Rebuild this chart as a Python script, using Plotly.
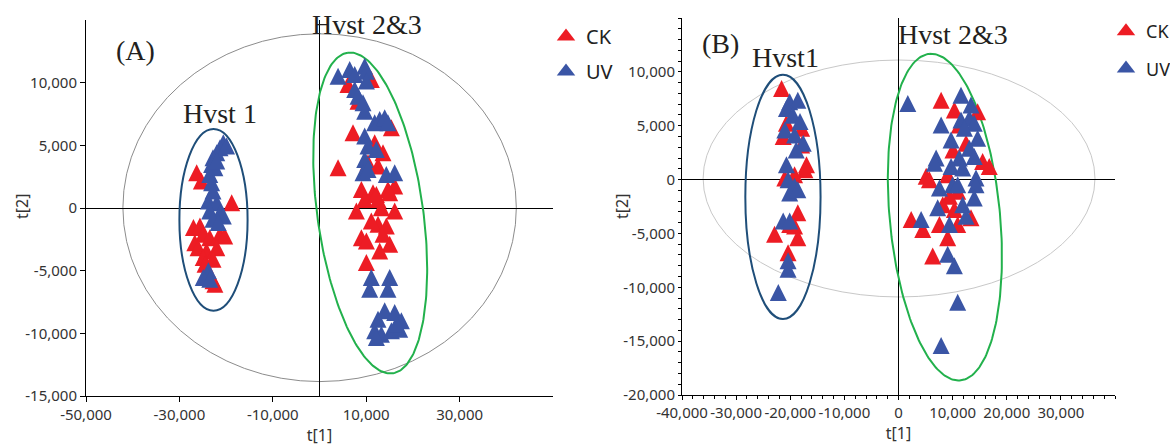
import numpy as np
import plotly.graph_objects as go

# ---------------- data (scores t[1], t[2]) ----------------
# Panel A
A_CK_x = [-26300, -25300, -18800, -27000, -25600, -24900, -26700, -23500, -21300, -20300,
          -26000, -24200, -22000, -24900, -22800, -24500, -22800, -22400,
          6110, 8250, 11100, 7180, 11820, 15390, 13600, 3970, 12530, 10390,
          8970, 11460, 14660, 16100, 9680, 12530, 7900, 12180, 15030, 16100,
          13250, 12530, 8970, 10040, 13600, 15030, 12890, 10040, 14310, 11100]
A_CK_y = [2590, 1930, 200, -1790, -1660, -2330, -2990, -2590, -2330, -2450,
          -3390, -3650, -3390, -4180, -4320, -4720, -6040, -6310,
          9630, 8300, 10020, 5780, 4980, 6180, 4180, 2990, 3120, 3390,
          1260, 1000, 1260, 1530, 460, 460, -460, 860, 1000, -460,
          -200, -1530, -2590, -2850, -2330, -3120, -3650, -4580, -1660, -1260]
A_UV_x = [-20600, -21300, -22000, -22800, -23100, -22400, -23500, -23100, -22800, -23800,
          -22000, -23500, -21300, -20600, -22800, -21700, -23800, -24900, -23500, -19900, -22000,
          3970, 6470, 7540, 9680, 10040, 10040, 7540, 8250, 9320, 9680,
          11820, 12890, 13960, 14660, 9680, 10390, 12180, 9680, 9320, 10390,
          14310, 16100, 11100, 15030, 10750, 14660, 12530, 13960, 16100, 17530,
          11820, 13250, 15390, 17170, 12180, 16460]
A_UV_y = [4980, 4580, 4180, 3780, 3250, 2990, 2450, 1790, 1130, 330,
          200, -460, -600, -860, -1130, -1390, -5240, -5780, -5910, 4720, 3520,
          10290, 10820, 10420, 11090, 10690, 9900, 9230, 8700, 8170, 7500,
          6570, 6840, 6970, 6570, 5510, 4720, 4450, 3650, 2590, 2850,
          2450, 2590, -5780, -5780, -6710, -6710, -9100, -8430, -8570, -9230,
          -10020, -10300, -10020, -9900, -10560, -9500]

# Panel B
B_CK_x = [-21600, -20700, -17900, -21300, -17900, -17300, -19200, -21000, -18600, -19200,
          -22900, -18600, -20400, -20100, -17000,
          7870, 10320, 14620, 11240, 10060, 15540, 16770, 5110, 5710, 10930,
          9400, 10320, 13400, 2340, 4480, 7560, 10930, 9090, 6320, 8170, 9090, 12480]
B_CK_y = [8190, 4960, 4500, 3730, 2950, 650, 180, -120, -3350, -4580,
          -5350, -5660, -7050, -4430, 1110,
          7110, 6190, 6040, 4800, 2490, 1420, 960, 40, -280, -1350,
          -1810, -3050, -3810, -3970, -4890, -4430, -4430, -5660, -7350, -2590, 180, 3110]
B_UV_x = [-20100, -18600, -20700, -19500, -18200, -21000, -19200, -17600, -18900, -20700,
          -20400, -19200, -20100, -18600, -21300, -20100, -20400, -20400, -22200,
          1720, 11550, 13400, 7870, 11550, 13090, 14000, 12170, 9710, 14620,
          6950, 6640, 11240, 13090, 14000, 9710, 11850, 7560, 10000, 10930,
          14320, 14320, 14000, 7240, 11850, 12480, 4180, 9400, 9090, 10320, 10930, 7870]
B_UV_y = [6960, 7110, 6340, 5720, 5120, 4340, 3880, 3110, 2490, 1110,
          -280, -890, -1500, -1200, -4120, -4120, -7810, -8590, -10740,
          6800, 7570, 6650, 4800, 5260, 5420, 4960, 4500, 3420, 3570,
          1730, 1260, 1730, 2650, 1880, 960, 800, -1040, -740, -740,
          -120, -740, -1970, -2890, -2590, -3660, -3970, -4430, -7200, -8270, -11660, -15660]

# tick labels
A_xticks = [-50000, -30000, -10000, 10000, 30000]
A_xtext = ["-50,000", "-30,000", "-10,000", "10,000", "30,000"]
A_yticks = [-15000, -10000, -5000, 0, 5000, 10000]
A_ytext = ["-15,000", "-10,000", "-5,000", "0", "5,000", "10,000"]
B_xticks = [-40000, -30000, -20000, -10000, 0, 10000, 20000, 30000]
B_xtext = ["-40,000", "-30,000", "-20,000", "-10,000", "0", "10,000", "20,000", "30,000"]
B_yticks = [-20000, -15000, -10000, -5000, 0, 5000, 10000]
B_ytext = ["-20,000", "-15,000", "-10,000", "-5,000", "0", "5,000", "10,000"]

RED = "#ED1C24"
BLUE = "#3A55A5"
GREEN = "#22B14C"
NAVY = "#1F4E79"


def tilted_ellipse(c, u, v, n=240):
    t = np.linspace(0, 2 * np.pi, n)
    x = c[0] + u[0] * np.cos(t) + v[0] * np.sin(t)
    y = c[1] + u[1] * np.cos(t) + v[1] * np.sin(t)
    return x, y


fig = go.Figure()

# tilted green ellipses (Hvst 2&3)
gx, gy = tilted_ellipse((10860, -400), (-4810, 12790), (11210, 586))
fig.add_trace(go.Scatter(x=gx, y=gy, mode="lines", line=dict(color=GREEN, width=2),
                         showlegend=False, hoverinfo="skip", xaxis="x", yaxis="y"))
gx2, gy2 = tilted_ellipse((8570, -3490), (-2857, 15160), (10150, 480))
fig.add_trace(go.Scatter(x=gx2, y=gy2, mode="lines", line=dict(color=GREEN, width=2),
                         showlegend=False, hoverinfo="skip", xaxis="x2", yaxis="y2"))

# upright triangle, as tall as it is wide, centred on the point
MS = 17


def tri(color):
    return dict(symbol="arrow-down", angle=180, standoff=MS * 2 / 3, size=MS, color=color,
                line=dict(width=0))


for xs, ys, col, ax, ay in [(A_CK_x, A_CK_y, RED, "x", "y"), (A_UV_x, A_UV_y, BLUE, "x", "y"),
                            (B_CK_x, B_CK_y, RED, "x2", "y2"), (B_UV_x, B_UV_y, BLUE, "x2", "y2")]:
    fig.add_trace(go.Scatter(x=xs, y=ys, mode="markers", marker=tri(col), showlegend=False,
                             xaxis=ax, yaxis=ay))

# legend entries (no data of their own)
for name, col, leg, grp in [("CK", RED, "legend", "ckA"), ("UV", BLUE, "legend", "uvA"),
                            ("CK", RED, "legend2", "ckB"), ("UV", BLUE, "legend2", "uvB")]:
    fig.add_trace(go.Scatter(x=[None], y=[None], mode="markers", name=name,
                             marker=dict(symbol="triangle-up", size=16, color=col),
                             legend=leg, legendgroup=grp,
                             xaxis="x" if leg == "legend" else "x2",
                             yaxis="y" if leg == "legend" else "y2"))

# axis-aligned ellipses
shapes = [
    dict(type="circle", xref="x", yref="y", x0=-42100, x1=42150, y0=-13850, y1=13900,
         line=dict(color="#8C8C8C", width=1), layer="below"),
    dict(type="circle", xref="x", yref="y", x0=-30000, x1=-15400, y0=-8200, y1=6300,
         line=dict(color=NAVY, width=2), layer="above"),
    dict(type="circle", xref="x2", yref="y2", x0=-36100, x1=36300, y0=-10900, y1=11100,
         line=dict(color="#C8C8C8", width=1), layer="below"),
    dict(type="circle", xref="x2", yref="y2", x0=-28300, x1=-14400, y0=-12950, y1=9730,
         line=dict(color=NAVY, width=2), layer="above"),
]

W, H = 1170, 447


def px(xp):
    return xp / W


def py(yp):
    return 1 - yp / H


serif = dict(family="Liberation Serif", size=28, color="#231F20")


def label(text, x, y):
    return dict(text=text, x=px(x), y=py(y), xref="paper", yref="paper", showarrow=False,
                xanchor="center", yanchor="middle", font=serif)


titlefont = dict(family="Noto Sans", size=16, color="#333333")


def ytitle(x, y):
    return dict(text="t[2]", x=px(x), y=py(y), xref="paper", yref="paper", showarrow=False,
                xanchor="center", yanchor="middle", textangle=-90, font=titlefont)


annotations = [
    label("(A)", 135, 50),
    label("Hvst 1", 220, 113),
    label("Hvst 2&amp;3", 367, 24),
    label("(B)", 720, 43),
    label("Hvst1", 786, 57),
    label("Hvst 2&amp;3", 953, 35),
    ytitle(22, 207),
    ytitle(622, 207),
]

tickfont = dict(family="Noto Sans", size=15, color="#333333")
common = dict(showline=True, linecolor="black", linewidth=1, ticks="outside",
              tickcolor="black", showgrid=False, zeroline=True, zerolinecolor="black",
              zerolinewidth=1, tickfont=tickfont, tickmode="array", automargin=False,
              tickangle=0)

fig.update_layout(
    template="none",
    width=W, height=H, margin=dict(l=0, r=0, t=0, b=0, autoexpand=False),
    paper_bgcolor="white", plot_bgcolor="white",
    xaxis=dict(domain=[px(86), px(553)], range=[-50000, 50000], tickvals=A_xticks, ticktext=A_xtext,
               anchor="y", ticklen=5, title=dict(text="t[1]", font=titlefont, standoff=6), **common),
    yaxis=dict(domain=[py(396), py(20)], range=[-15000, 15000], tickvals=A_yticks, ticktext=A_ytext,
               anchor="x", ticklen=5, **common),
    xaxis2=dict(domain=[px(682), px(1115)], range=[-40000, 40000], tickvals=B_xticks, ticktext=B_xtext,
                anchor="y2", ticklen=4, title=dict(text="t[1]", font=titlefont, standoff=6),
                minor=dict(tickmode="linear", tick0=0, dtick=2000, ticks="outside", ticklen=3,
                           tickcolor="black"),
                **common),
    yaxis2=dict(domain=[py(395), py(18)], range=[-20000, 15000], tickvals=B_yticks, ticktext=B_ytext,
                anchor="x2", ticklen=3,
                minor=dict(tickmode="linear", tick0=0, dtick=1000, ticks="outside", ticklen=3,
                           tickcolor="black"),
                **common),
    shapes=shapes,
    annotations=annotations,
    legend=dict(x=px(546), y=py(17), xanchor="left", yanchor="top", bgcolor="rgba(0,0,0,0)",
                font=dict(family="Noto Sans", size=20, color="#222222"), tracegroupgap=6,
                itemsizing="trace"),
    legend2=dict(x=px(1106), y=py(13), xanchor="left", yanchor="top", bgcolor="rgba(0,0,0,0)",
                 font=dict(family="Noto Sans", size=18, color="#222222"), tracegroupgap=11,
                 itemsizing="trace"),
)

fig.write_html("out.html")
